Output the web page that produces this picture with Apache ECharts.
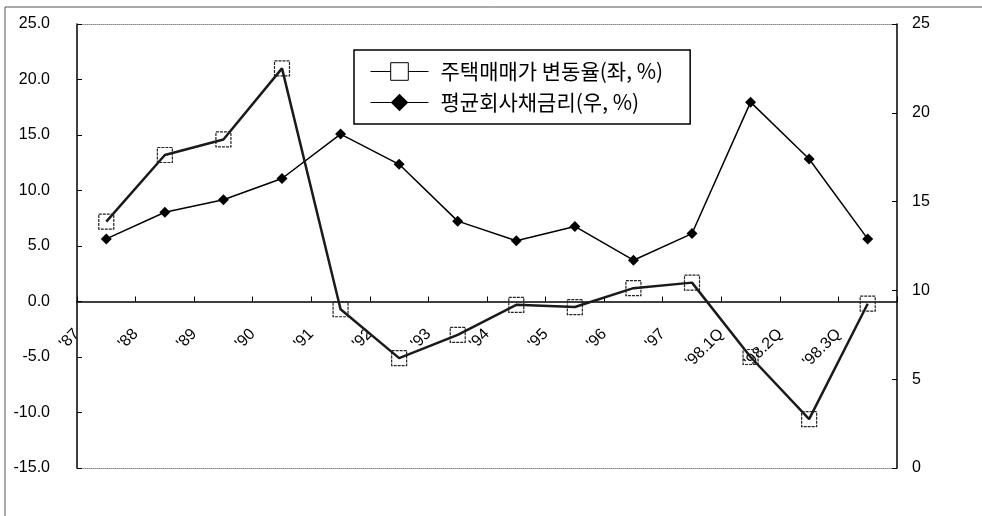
<!DOCTYPE html>
<html>
<head>
<meta charset="utf-8">
<script src="https://cdn.jsdelivr.net/npm/echarts@6/dist/echarts.min.js"></script>
<style>
  html, body { margin: 0; padding: 0; background: #fff; }
  #chart { width: 982px; height: 516px; }
</style>
</head>
<body>
<div id="chart"></div>
<script>
// Periods (annual through 1997, then 1998 quarters)
const categories = ["'87", "'88", "'89", "'90", "'91", "'92", "'93", "'94", "'95", "'96", "'97", "'98.1Q", "'98.2Q", "'98.3Q"];
// Tick labels sit on the category boundaries; the last boundary has no label
const tickLabels = categories.concat(['']);

// Housing sale price change rate (left axis, %)
const housePriceChange = [7.2, 13.2, 14.6, 21.0, -0.7, -5.1, -3.0, -0.3, -0.5, 1.2, 1.7, -5.0, -10.6, -0.2];
// Average corporate bond yield (right axis, %)
const corpBondYield = [12.9, 14.4, 15.1, 16.3, 18.8, 17.1, 13.9, 12.8, 13.6, 11.7, 13.2, 20.6, 17.4, 12.9];

const seriesNames = ['주택매매가 변동율(좌, %)', '평균회사채금리(우, %)'];

const leftAxis = { min: -15, max: 25, interval: 5 };
const rightAxis = { min: 0, max: 25, interval: 5 };

const latin = 'Liberation Sans, Arial, sans-serif';
const korean = '"Noto Sans CJK KR", sans-serif';

// Plot rectangle
const gridBox = { left: 77, right: 85, top: 24, bottom: 48 };
const plotHeight = 516 - gridBox.top - gridBox.bottom;
// Distance of the left axis' zero from the plot bottom: the period labels hang off that line
const zeroLift = plotHeight * (0 - leftAxis.min) / (leftAxis.max - leftAxis.min);

const chart = echarts.init(document.getElementById('chart'), null, { renderer: 'canvas' });

const frameAxis = (pos) => ({
  type: 'category',
  data: categories,
  position: pos,
  axisLine: { show: true, onZero: false, lineStyle: { color: '#888', width: 1, type: [1, 1] } },
  axisTick: { show: false },
  axisLabel: { show: false },
  splitLine: { show: false }
});

chart.setOption({
  backgroundColor: '#fff',
  animation: false,
  grid: Object.assign({ containLabel: false, outerBoundsMode: 'none' }, gridBox),
  legend: {
    orient: 'vertical',
    left: 354,
    top: 50,
    itemWidth: 58,
    itemHeight: 22,
    itemGap: 10,
    padding: [11, 27, 11, 16],
    borderColor: '#000',
    borderWidth: 1.5,
    backgroundColor: '#fff',
    lineStyle: { width: 1, color: '#000' },
    textStyle: { fontSize: 21, fontFamily: korean, color: '#000', padding: [0, 0, 0, 7] },
    data: [
      { name: seriesNames[0], itemStyle: { color: '#fff', borderColor: '#000', borderWidth: 1 } },
      { name: seriesNames[1], itemStyle: { color: '#000' } }
    ]
  },
  xAxis: [
    {
      type: 'category',
      data: categories,
      boundaryGap: true,
      position: 'bottom',
      axisLine: { show: true, onZero: true, onZeroAxisIndex: 0, lineStyle: { color: '#000', width: 1.5 } },
      axisTick: { show: true, inside: true, length: 5, lineStyle: { color: '#000', width: 1 } },
      axisLabel: { show: false },
      splitLine: { show: false }
    },
    {
      type: 'category',
      data: tickLabels,
      boundaryGap: false,
      position: 'bottom',
      offset: -zeroLift,
      axisLine: { show: false, onZero: false },
      axisTick: { show: false },
      axisLabel: {
        show: true, interval: 0, rotate: 45, margin: 30,
        fontSize: 16, fontFamily: latin, color: '#000'
      },
      splitLine: { show: false }
    },
    frameAxis('top'),
    frameAxis('bottom')
  ],
  yAxis: [
    {
      type: 'value',
      position: 'left',
      min: leftAxis.min, max: leftAxis.max, interval: leftAxis.interval,
      axisLine: { show: true, onZero: false, lineStyle: { color: '#000', width: 1.5 } },
      axisTick: { show: true, inside: true, length: 5, lineStyle: { color: '#000' } },
      axisLabel: {
        margin: 27, fontSize: 16, fontFamily: latin, color: '#000',
        padding: [0, 0, 8, 0],
        formatter: (v) => v.toFixed(1)
      },
      splitLine: { show: false }
    },
    {
      type: 'value',
      position: 'right',
      min: rightAxis.min, max: rightAxis.max, interval: rightAxis.interval,
      axisLine: { show: true, onZero: false, lineStyle: { color: '#000', width: 1.5 } },
      axisTick: { show: true, inside: true, length: 5, lineStyle: { color: '#000' } },
      axisLabel: { margin: 15, fontSize: 16, fontFamily: latin, color: '#000' },
      splitLine: { show: false }
    }
  ],
  graphic: [
    { type: 'line', shape: { x1: 5, y1: 7, x2: 982, y2: 7 }, style: { stroke: '#555', lineWidth: 1 }, silent: true },
    { type: 'line', shape: { x1: 5, y1: 7, x2: 5, y2: 516 }, style: { stroke: '#555', lineWidth: 1 }, silent: true }
  ],
  series: [
    {
      name: seriesNames[1],
      type: 'line',
      xAxisIndex: 0,
      yAxisIndex: 1,
      data: corpBondYield,
      symbol: 'diamond',
      symbolSize: 11,
      showAllSymbol: true,
      color: '#000',
      lineStyle: { color: '#000', width: 1.5 },
      itemStyle: { color: '#000' },
      z: 2
    },
    {
      name: seriesNames[0],
      type: 'line',
      xAxisIndex: 0,
      yAxisIndex: 0,
      data: housePriceChange,
      symbol: 'rect',
      symbolSize: 15,
      showAllSymbol: true,
      color: '#1a1a1a',
      lineStyle: { color: '#1a1a1a', width: 2.5 },
      itemStyle: { color: 'rgba(255,255,255,0)', borderColor: '#222', borderWidth: 1.2, borderType: [3, 1] },
      z: 3
    }
  ]
});
</script>
</body>
</html>
